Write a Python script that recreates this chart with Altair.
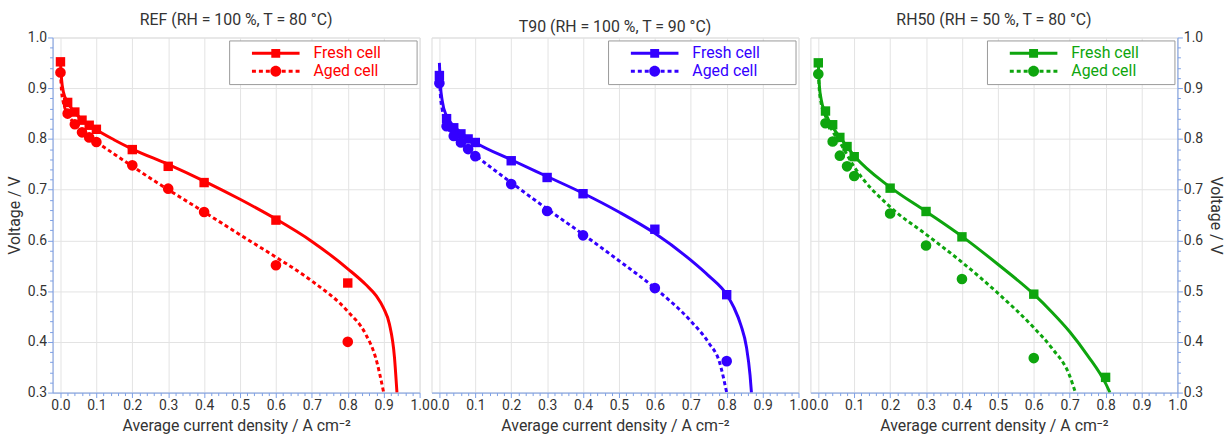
import altair as alt
import pandas as pd

# ---------------- data ----------------
series_names = ["Fresh cell", "Aged cell"]
panel_titles = ["REF (RH = 100 %, T = 80 °C)", "T90 (RH = 100 %, T = 90 °C)", "RH50 (RH = 50 %, T = 80 °C)"]
panel_colors = ["#ff0000", "#3300ff", "#0ea50e"]

# measured points (current density A cm-2, voltage V)
pts_x = [0.0, 0.02, 0.04, 0.06, 0.08, 0.1, 0.2, 0.3, 0.4, 0.6, 0.8]
ref_fresh_v = [0.952, 0.872, 0.853, 0.837, 0.827, 0.819, 0.779, 0.746, 0.714, 0.640, 0.516]
ref_aged_v = [0.931, 0.850, 0.829, 0.813, 0.803, 0.794, 0.748, 0.702, 0.656, 0.551, 0.400]
t90_fresh_v = [0.925, 0.840, 0.822, 0.810, 0.800, 0.793, 0.757, 0.724, 0.692, 0.622, 0.493]
t90_aged_v = [0.910, 0.825, 0.806, 0.793, 0.780, 0.766, 0.711, 0.658, 0.610, 0.506, 0.362]
rh50_fresh_v = [0.950, 0.855, 0.828, 0.803, 0.785, 0.765, 0.703, 0.657, 0.607, 0.494, 0.330]
rh50_aged_x = [0.0, 0.02, 0.04, 0.06, 0.08, 0.1, 0.2, 0.3, 0.4, 0.6]
rh50_aged_v = [0.928, 0.831, 0.795, 0.767, 0.746, 0.727, 0.653, 0.590, 0.524, 0.368]

# model curves
ref_fresh_cx = [0.0, 0.003, 0.008, 0.02, 0.04, 0.06, 0.1, 0.15, 0.2, 0.3, 0.4, 0.5, 0.6, 0.7, 0.8, 0.85, 0.88, 0.9, 0.916, 0.93, 0.937]
ref_fresh_cv = [0.952, 0.918, 0.893, 0.872, 0.852, 0.838, 0.818, 0.798, 0.780, 0.750, 0.717, 0.681, 0.642, 0.598, 0.544, 0.513, 0.490, 0.466, 0.435, 0.370, 0.300]
ref_aged_cx = [0.0, 0.003, 0.008, 0.02, 0.04, 0.06, 0.1, 0.15, 0.2, 0.3, 0.4, 0.5, 0.6, 0.7, 0.8, 0.85, 0.878, 0.9]
ref_aged_cv = [0.931, 0.895, 0.872, 0.850, 0.829, 0.814, 0.794, 0.770, 0.746, 0.700, 0.656, 0.611, 0.567, 0.520, 0.460, 0.415, 0.368, 0.300]
t90_fresh_cx = [0.0, 0.003, 0.008, 0.02, 0.04, 0.06, 0.1, 0.2, 0.3, 0.4, 0.5, 0.6, 0.7, 0.75, 0.8, 0.82, 0.84, 0.855, 0.865, 0.869]
t90_fresh_cv = [0.950, 0.905, 0.875, 0.845, 0.826, 0.812, 0.793, 0.759, 0.726, 0.693, 0.656, 0.614, 0.561, 0.530, 0.493, 0.468, 0.432, 0.390, 0.335, 0.300]
t90_aged_cx = [0.0, 0.003, 0.008, 0.02, 0.04, 0.06, 0.1, 0.2, 0.3, 0.4, 0.5, 0.6, 0.7, 0.75, 0.78, 0.8]
t90_aged_cv = [0.930, 0.885, 0.858, 0.828, 0.806, 0.792, 0.768, 0.714, 0.662, 0.612, 0.560, 0.506, 0.441, 0.398, 0.360, 0.300]
rh50_fresh_cx = [0.0, 0.003, 0.008, 0.02, 0.04, 0.06, 0.1, 0.2, 0.3, 0.4, 0.5, 0.6, 0.65, 0.7, 0.75, 0.8, 0.812]
rh50_fresh_cv = [0.950, 0.905, 0.878, 0.851, 0.823, 0.804, 0.767, 0.705, 0.657, 0.608, 0.553, 0.494, 0.459, 0.420, 0.373, 0.318, 0.300]
rh50_aged_cx = [0.0, 0.003, 0.008, 0.02, 0.04, 0.06, 0.1, 0.2, 0.3, 0.4, 0.5, 0.6, 0.65, 0.7, 0.716]
rh50_aged_cv = [0.930, 0.895, 0.870, 0.845, 0.815, 0.793, 0.745, 0.666, 0.612, 0.557, 0.496, 0.428, 0.388, 0.333, 0.300]

# ---------------- styling ----------------
FONT = "Roboto"
AXIS_BLUE = "#7b9fe6"
TXT = "#333333"
MAJOR = "abs(datum.value*10 - round(datum.value*10)) < 0.000001"
x_ticks = [round(i * 0.02, 2) for i in range(51)]
y_ticks = [round(0.3 + i * 0.02, 2) for i in range(36)]
label_expr = MAJOR + " ? format(datum.value, '.1f') : ''"
tick_size = {"condition": {"test": MAJOR, "value": 5}, "value": 3}
grid_op = {"condition": {"test": MAJOR, "value": 1}, "value": 0}

# legend symbols: line with marker, drawn as filled shapes (unit = sqrt(size)/2 = 5 px)
fresh_path = "M-4.8,-0.3H4.8V0.3H-4.8ZM-0.9,-0.9H0.9V0.9H-0.9Z"
aged_path = ("M-4.8,-0.3H-4.0V0.3H-4.8Z"
             "M-3.4,-0.3H-2.6V0.3H-3.4Z"
             "M-2.0,-0.3H-1.2V0.3H-2.0Z"
             "M1.2,-0.3H2.0V0.3H1.2Z"
             "M2.6,-0.3H3.4V0.3H2.6Z"
             "M4.0,-0.3H4.8V0.3H4.0Z"
             "M1.1,0A1.1,1.1,0,1,1,-1.1,0A1.1,1.1,0,1,1,1.1,0Z")

x_scale = alt.Scale(domain=[-0.022, 1.0], nice=False, zero=False)
y_scale = alt.Scale(domain=[0.3, 1.0], nice=False, zero=False)


def make_panel(title, color, fx, fv, ax, av, fcx, fcv, acx, acv, yside):
    x_axis = alt.Axis(values=x_ticks, labelExpr=label_expr, tickSize=tick_size, gridOpacity=grid_op,
                      title="Average current density / A cm⁻²", labelFlush=False, labelOverlap=False)
    if yside is None:
        y_axis = alt.Axis(values=y_ticks, gridOpacity=grid_op, labels=False, ticks=False, domain=False, title=None)
    else:
        y_axis = alt.Axis(orient=yside, values=y_ticks, labelExpr=label_expr, tickSize=tick_size,
                          gridOpacity=grid_op, title="Voltage / V", labelFlush=False, labelOverlap=False)
    x = alt.X("x:Q", scale=x_scale, axis=x_axis)
    y = alt.Y("v:Q", scale=y_scale, axis=y_axis)

    line_f = alt.Chart(pd.DataFrame({"x": fcx, "v": fcv})).mark_line(
        color=color, strokeWidth=3, interpolate="monotone", clip=True).encode(x=x, y=y)
    line_a = alt.Chart(pd.DataFrame({"x": acx, "v": acv})).mark_line(
        color=color, strokeWidth=3, strokeDash=[4, 3], interpolate="monotone", clip=True).encode(x=x, y=y)
    pt_f = alt.Chart(pd.DataFrame({"x": fx, "v": fv})).mark_point(
        shape="square", filled=True, size=90, color=color, opacity=1).encode(x=x, y=y)
    pt_a = alt.Chart(pd.DataFrame({"x": ax, "v": av})).mark_point(
        shape="circle", filled=True, size=115, color=color, opacity=1).encode(x=x, y=y)
    leg = alt.Chart(pd.DataFrame({"series": series_names})).transform_filter("false").mark_point(
        filled=True, color=color, size=100, opacity=1).encode(
        shape=alt.Shape("series:N",
                        scale=alt.Scale(domain=series_names, range=[fresh_path, aged_path]),
                        legend=alt.Legend(title=".", titleOrient="right", titleOpacity=0, titlePadding=27,
                                          orient="top-right", offset=3,
                                          labelColor=color, symbolFillColor=color,
                                          symbolStrokeColor=color, symbolStrokeWidth=0,
                                          symbolSize=100, symbolOpacity=1)))
    return alt.layer(line_f, line_a, pt_f, pt_a, leg).properties(width=370, height=358, title=title)


p1 = make_panel(panel_titles[0], panel_colors[0], pts_x, ref_fresh_v, pts_x, ref_aged_v,
                ref_fresh_cx, ref_fresh_cv, ref_aged_cx, ref_aged_cv, "left")
p2 = make_panel(panel_titles[1], panel_colors[1], pts_x, t90_fresh_v, pts_x, t90_aged_v,
                t90_fresh_cx, t90_fresh_cv, t90_aged_cx, t90_aged_cv, None)
p3 = make_panel(panel_titles[2], panel_colors[2], pts_x, rh50_fresh_v, rh50_aged_x, rh50_aged_v,
                rh50_fresh_cx, rh50_fresh_cv, rh50_aged_cx, rh50_aged_cv, "right")

chart = alt.hconcat(p1, p2, p3, spacing=12).properties(
    bounds="flush", padding={"left": 6, "top": 9, "right": 5, "bottom": 2}
).resolve_scale(shape="independent").configure_view(
    stroke="#dcdcdc"
).configure_axis(
    domainColor=AXIS_BLUE, tickColor=AXIS_BLUE, gridColor="#e3e3e3",
    labelColor=TXT, titleColor=TXT, labelFont=FONT, titleFont=FONT,
    labelFontSize=14, titleFontSize=16, titleFontWeight="normal", labelPadding=1, titlePadding=5
).configure_title(
    font=FONT, fontSize=16, color=TXT, fontWeight="normal", anchor="middle", offset=3
).configure_legend(
    strokeColor="#999999", fillColor="white", padding=5, labelFont=FONT, labelFontSize=16,
    titleFont=FONT, titleFontSize=12,
    symbolOffset=34, labelOffset=30, rowPadding=2, cornerRadius=0
)

chart.save("out.html", embed_options={"renderer": "svg", "actions": False})
